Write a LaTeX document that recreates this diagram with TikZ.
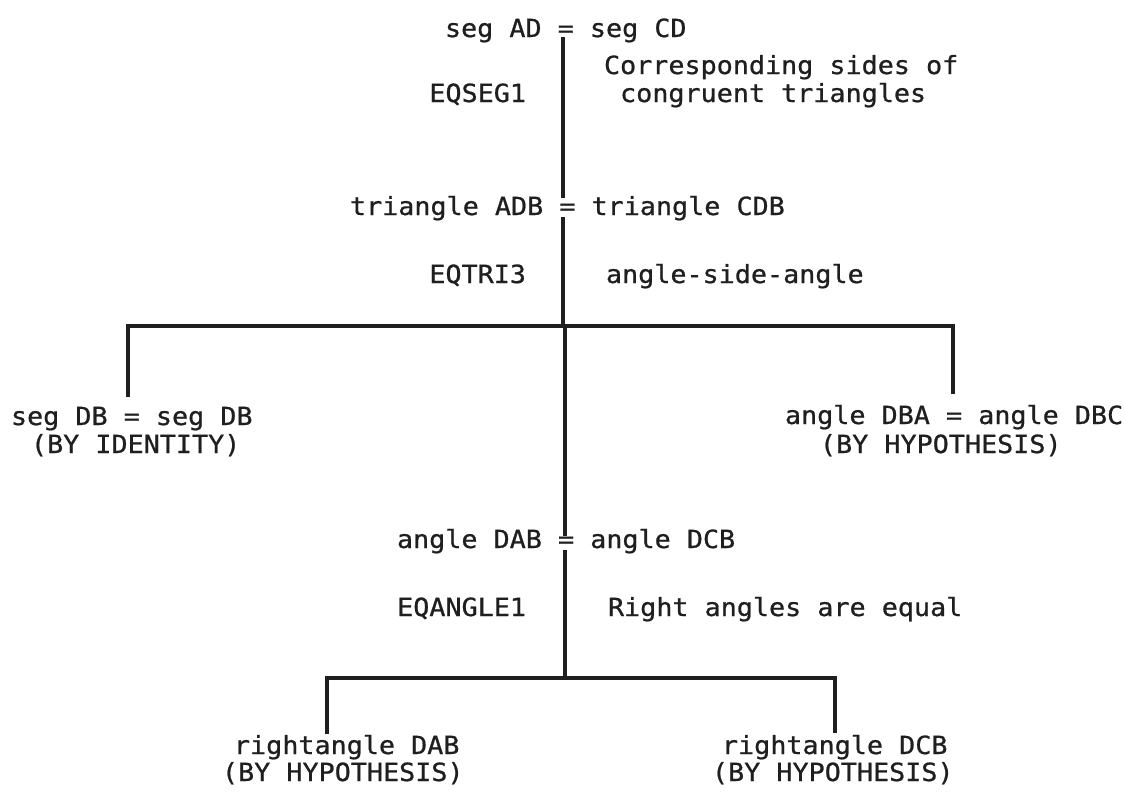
\documentclass[tikz,border=0pt]{standalone}
\usepackage{fontspec}
\newfontfamily\monof[FakeStretch=1.07,FakeBold=0.8]{DejaVu Sans Mono}
\begin{document}
\begin{tikzpicture}[x=1pt,y=-1pt,
  txt/.style={inner sep=0pt, outer sep=0pt, text=black!88,
    font=\monof\fontsize{25}{28}\selectfont},
  lnk/.style={line width=3.2pt, draw=black!88, line cap=butt}]
\useasboundingbox[fill=white] (0,0) rectangle (1125,793);
% statements
\node[txt, anchor=base west] (segAD) at (445,37) {seg AD = seg CD};
\node[txt, anchor=base east] (eqseg) at (526,102) {EQSEG1};
\node[txt, anchor=base west, align=left] (corr) at (604,102) {Corresponding sides of\\\hphantom{c}congruent triangles};
\node[txt, anchor=base west] (triADB) at (350,215) {triangle ADB = triangle CDB};
\node[txt, anchor=base east] (eqtri) at (526,283) {EQTRI3};
\node[txt, anchor=base west] (asa) at (606,283) {angle-side-angle};
\node[txt, anchor=base west] (segDB) at (11,425) {seg DB = seg DB};
\node[txt, anchor=base west] (idty) at (31,453) {(BY IDENTITY)};
\node[txt, anchor=base west] (dba) at (785,424) {angle DBA = angle DBC};
\node[txt, anchor=base west] (hyp1) at (820,453) {(BY HYPOTHESIS)};
\node[txt, anchor=base west] (dab) at (397,548) {angle DAB = angle DCB};
\node[txt, anchor=base east] (eqang) at (526,616) {EQANGLE1};
\node[txt, anchor=base west] (rae) at (608,616) {Right angles are equal};
\node[txt, anchor=base west] (rDAB) at (234,754) {rightangle DAB};
\node[txt, anchor=base west] (hyp2) at (222,781) {(BY HYPOTHESIS)};
\node[txt, anchor=base west] (rDCB) at (722,754) {rightangle DCB};
\node[txt, anchor=base west] (hyp3) at (712,781) {(BY HYPOTHESIS)};
% junctions
\coordinate (ax1) at (563,0);
\coordinate (j1) at (563,326);
\coordinate (jL) at (128,326);
\coordinate (jR) at (953,326);
\coordinate (j2) at (565,678);
\coordinate (kL) at (327,678);
\coordinate (kR) at (835,678);
% connectors
\draw[lnk] ([yshift=5pt]segAD.south -| ax1) -- ([yshift=-2pt]triADB.north -| ax1);
\draw[lnk] ([yshift=3pt]triADB.south -| ax1) -- (j1);
\draw[lnk] ([xshift=-1.6pt]jL) -- ([xshift=1.6pt]jR);
\draw[lnk] (jL) -- ([yshift=10pt]segDB.north -| jL);
\draw[lnk] (jR) -- ([yshift=11pt]dba.north -| jR);
\draw[lnk] (j1 -| j2) -- ([yshift=-7pt]dab.north -| j2);
\draw[lnk] ([yshift=3pt]dab.south -| j2) -- (j2);
\draw[lnk] ([xshift=-1.6pt]kL) -- ([xshift=1.6pt]kR);
\draw[lnk] (kL) -- ([yshift=1pt]rDAB.north -| kL);
\draw[lnk] (kR) -- ([yshift=2pt]rDCB.north -| kR);
\end{tikzpicture}
\end{document}
